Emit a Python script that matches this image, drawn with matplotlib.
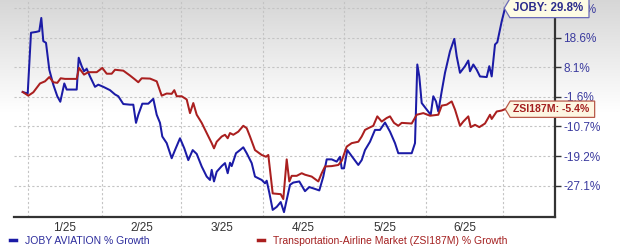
import numpy as np
import matplotlib
matplotlib.use('Agg')
import matplotlib.pyplot as plt
from matplotlib.path import Path
from matplotlib.lines import Line2D

plt.rcParams['font.family'] = ['Liberation Sans', 'DejaVu Sans']

# month boundaries (gridlines) on the trading-day axis, labels sit between them
month_edges = [14, 88, 167, 249, 330, 412, 489]
month_labels = ['1/25', '2/25', '3/25', '4/25', '5/25', '6/25']
y_ticks = [-27.1, -19.2, -10.7, -1.6, 8.1, 18.6, 29.8]

# JOBY AVIATION % growth
joby_x = [8.7, 13.7, 17, 22, 25.3, 27.3, 29.3, 32, 35.3, 39.3, 43.3, 46.3, 50.3, 52.7, 62.7,
          64.7, 67.7, 70, 72.7, 76, 81, 84.3, 89.3, 96, 101, 104.3, 109.3, 116, 119.3, 122,
          124.3, 128.3, 134.3, 139.3, 142.7, 146, 148.3, 152.7, 157.7, 161, 166, 170.3, 174.3,
          178.7, 182.7, 187.7, 192.7, 196, 197.7, 200, 202.7, 207.7, 211, 213.7, 216, 217.7,
          222, 226, 229.3, 232.7, 237.7, 241, 247.7, 251, 252.7, 255.3, 258.7, 262.7, 266.7,
          270, 276, 279.3, 285.3, 291, 295.3, 301, 305.3, 309.3, 312.7, 317.7, 322.7, 326,
          327.7, 330, 333.3, 339.3, 344.3, 347.7, 351, 356, 361, 366, 371, 376, 381, 384.3,
          389.3, 397.7, 401, 403.3, 405.3, 407.7, 412.7, 416.7, 419.3, 422, 424.3, 427.7, 431,
          436, 440.3, 442.7, 446, 451, 454.3, 456, 459.3, 462.7, 466, 472.7, 475.3, 477.7,
          481, 483.3, 487.7, 491]
joby_pct = [0.0, -0.5, 20.5, 20.8, 21.1, 26.1, 17.4, 16.8, 7.3, 2.4, -1.4, -3.1, 2.8, 0.8, 0.8,
            11.5, 8.5, 6.8, 7.6, 5.1, 1.7, 2.4, 1.7, 0.6, -0.8, -1.4, -3.8, -4.0, -4.0, -9.6,
            -7.1, -3.7, -3.7, -2.2, -7.1, -9.6, -13.6, -15.5, -19.8, -17.5, -14.1, -17.0, -20.3,
            -17.5, -18.6, -22.0, -24.7, -25.6, -22.9, -26.0, -23.4, -21.9, -21.1, -23.8, -21.0, -21.9,
            -18.4, -17.5, -16.7, -18.4, -21.1, -24.7, -25.6, -26.5, -25.8, -29.0, -33.6, -32.8, -31.5,
            -34.2, -26.9, -26.3, -26.0, -28.6, -27.5, -28.0, -28.4, -24.7, -20.1, -20.1, -20.7, -19.4,
            -22.5, -22.5, -17.5, -19.8, -21.6, -20.3, -17.5, -15.1, -11.7, -11.7, -9.5, -12.2, -15.5, -18.4,
            -18.4, -18.4, -15.5, 9.1, 5.1, -3.5, -5.5, -7.1, -1.4, -3.0, -6.1, 0.2, 6.3,
            13.8, 18.2, 12.0, 6.3, 8.5, 10.5, 6.8, 9.1, 7.3, 5.1, 4.9, 8.5, 5.1,
            16.2, 17.0, 24.8, 29.8]

# Transportation-Airline Market (ZSI187M) % growth
zsi_x = [8.7, 14.3, 19.3, 26, 31, 35.3, 39.3, 43.3, 46.7, 51, 62.7, 65, 70, 74.3, 82.7, 88.3,
         92.7, 97.7, 101, 109.3, 116, 121, 124.3, 127.7, 136, 142.7, 147.7, 152.7, 157.7, 160.3,
         162.7, 167.7, 172.7, 176, 179.3, 182.7, 187.7, 192.7, 197.7, 200, 202.7, 207.7, 211,
         213.7, 216, 219.3, 224.3, 229.3, 232.7, 236, 241, 247.7, 252, 254.3, 258.7, 266.7, 269.3,
         272.7, 275.3, 277.7, 282.7, 287.7, 291, 297.7, 304.3, 307.7, 311, 317.7, 324.3, 327.7,
         332.7, 337.7, 344.3, 347.7, 351, 354.3, 359.3, 363.3, 367.7, 372.7, 376, 380, 384.3,
         387.7, 397.7, 402.7, 409.3, 416, 424.3, 427.7, 432.7, 437.7, 441, 446, 449.3, 454.3,
         456.7, 461, 465.3, 471, 476, 477.7, 482.7, 487.7, 491]
zsi_pct = [0.0, -1.2, -0.1, 2.8, 3.5, 4.9, 3.2, 3.0, 4.5, 4.3, 4.3, 7.9, 5.7, 6.5, 6.5, 7.9,
           6.0, 6.0, 7.3, 7.0, 5.4, 4.1, 3.2, 4.5, 4.4, 3.5, -1.2, -0.5, -0.6, 0.6,
           -1.4, -1.4, -2.4, -6.6, -3.5, -7.1, -9.6, -12.6, -15.5, -17.0, -15.1, -13.6, -13.1,
           -14.1, -12.6, -13.1, -12.2, -10.5, -11.2, -13.6, -17.5, -18.9, -19.4, -18.9, -29.2, -29.4, -30.7,
           -20.1, -26.0, -24.5, -24.5, -23.8, -24.2, -24.7, -26.0, -23.8, -22.0, -21.9, -21.6, -20.5,
           -16.5, -15.5, -15.1, -13.6, -11.7, -11.2, -10.5, -7.6, -9.2, -8.1, -7.6, -9.6, -10.5,
           -9.6, -9.8, -7.1, -6.6, -7.4, -7.1, -4.3, -4.0, -3.0, -5.5, -10.5, -9.2, -7.6,
           -10.9, -10.2, -10.9, -9.8, -7.1, -8.4, -6.1, -5.8, -5.4]

# tick values are evenly spaced on the chart -> piecewise scale
tick_pos = np.arange(len(y_ticks), dtype=float)
ext_v = np.r_[y_ticks[0] - 10 * (y_ticks[1] - y_ticks[0]), y_ticks,
              y_ticks[-1] + 10 * (y_ticks[-1] - y_ticks[-2])]
ext_p = np.r_[-10.0, tick_pos, tick_pos[-1] + 10]


def forward(v):
    return np.interp(v, ext_v, ext_p)


def inverse(p):
    return np.interp(p, ext_p, ext_v)


def tag_box(x0, y0, width, height, mutation_size):
    # rectangle with a small pointer on the left
    pad = 0.3 * mutation_size
    x0, y0 = x0 - pad, y0 - pad
    width, height = width + 2.6 * pad, height + 2 * pad
    tip = 0.3 * height
    verts = [(x0 - tip, y0 + height / 2), (x0, y0), (x0 + width, y0),
             (x0 + width, y0 + height), (x0, y0 + height), (x0 - tip, y0 + height / 2)]
    return Path(verts, closed=True)


fig = plt.figure(figsize=(6.2, 2.49), dpi=100)

# grey-to-white background gradient
bg = fig.add_axes([0, 0, 1, 1], zorder=-1)
rows = np.linspace(0, 1, 249)
shade = np.clip(0.84 + 0.16 * rows / 0.45, 0, 1)
img = np.repeat(shade[:, None, None], 3, axis=2)
bg.imshow(img, aspect='auto', extent=[0, 1, 0, 1], origin='upper')
bg.axis('off')

ax = fig.add_axes([14 / 620, 32 / 249, 541 / 620, 217 / 249])
ax.patch.set_alpha(0)
ax.set_yscale('function', functions=(forward, inverse))

ax.plot(joby_x, joby_pct, color='#1b1ba6', lw=1.45, zorder=3)
ax.plot(zsi_x, zsi_pct, color='#aa1f1f', lw=1.45, zorder=4)

ax.set_xlim(0, 541)
ax.set_ylim(-35.5, 32.9)

ax.yaxis.tick_right()
ax.set_yticks(y_ticks)
ax.set_yticklabels([f'{v}%' for v in y_ticks])
ax.yaxis.set_minor_locator(matplotlib.ticker.NullLocator())
ax.tick_params(axis='y', length=4, width=1, color='#333333', labelcolor='#3a3a9e',
               labelsize=8.5, pad=2)

mids = [(a + b) / 2 for a, b in zip(month_edges[:-1], month_edges[1:])]
ax.set_xticks(month_edges)
ax.set_xticklabels([])
ax.set_xticks(mids, minor=True)
ax.set_xticklabels(month_labels, minor=True)
ax.tick_params(axis='x', which='both', length=0, labelcolor='#333333', labelsize=8.5, pad=3.5)

ax.grid(True, which='major', color='#c4c4c4', ls=(0, (2, 2)), lw=0.8)
for s in ['left', 'top']:
    ax.spines[s].set_visible(False)
for s in ['bottom', 'right']:
    ax.spines[s].set_color('#333333')
    ax.spines[s].set_linewidth(1.6)

ax.annotate(f'JOBY: {joby_pct[-1]}%', xy=(joby_x[-1], joby_pct[-1]), xytext=(6, 0),
            textcoords='offset points', ha='left', va='center', fontsize=8.3,
            fontweight='bold', color='#2c2c8c', annotation_clip=False, zorder=10,
            bbox=dict(boxstyle=tag_box, fc='#fdfbe4', ec='#6a6ab8', lw=0.9))
ax.annotate(f'ZSI187M: {zsi_pct[-1]}%', xy=(zsi_x[-1], zsi_pct[-1]), xytext=(6, 0),
            textcoords='offset points', ha='left', va='center', fontsize=7.6,
            fontweight='bold', color='#a42020', annotation_clip=False, zorder=10,
            bbox=dict(boxstyle=tag_box, fc='#fdf6e2', ec='#b85a4a', lw=0.9))

# legend entries
h1 = Line2D([], [], color='#1b1ba6', lw=2.5)
h2 = Line2D([], [], color='#aa1f1f', lw=2.5)
leg1 = fig.legend([h1], ['JOBY AVIATION % Growth'], loc='center left',
                  bbox_to_anchor=(10 / 620, 8 / 249), frameon=False, fontsize=7.5,
                  handlelength=0.55, handletextpad=0.9, borderpad=0, borderaxespad=0)
leg1.get_texts()[0].set_color('#2c2c9c')
leg2 = fig.legend([h2], ['Transportation-Airline Market (ZSI187M) % Growth'], loc='center left',
                  bbox_to_anchor=(258 / 620, 8 / 249), frameon=False, fontsize=7.5,
                  handlelength=0.55, handletextpad=0.9, borderpad=0, borderaxespad=0)
leg2.get_texts()[0].set_color('#a42020')

fig.savefig('out.png', dpi=100)
